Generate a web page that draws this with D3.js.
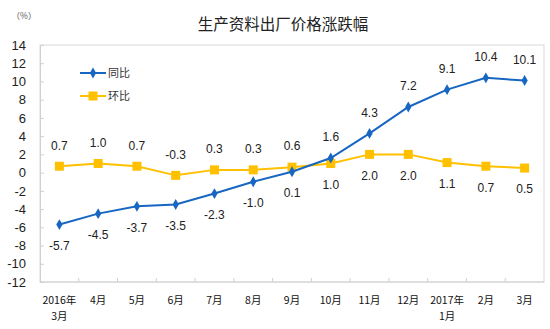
<!DOCTYPE html>
<html>
<head>
<meta charset="utf-8">
<script src="https://cdn.jsdelivr.net/npm/d3@7"></script>
<style>
  html, body { margin: 0; padding: 0; background: #fff; }
  svg { display: block; }
</style>
</head>
<body>
<svg id="chart" width="550" height="329"></svg>
<script>
// Months, first line is the label, second line (if any) goes underneath
const months = ["2016年\n3月", "4月", "5月", "6月", "7月", "8月", "9月", "10月", "11月", "12月", "2017年\n1月", "2月", "3月"];
// Year-on-year change (%)
const yoy = [-5.7, -4.5, -3.7, -3.5, -2.3, -1.0, 0.1, 1.6, 4.3, 7.2, 9.1, 10.4, 10.1];
// Month-on-month change (%)
const mom = [0.7, 1.0, 0.7, -0.3, 0.3, 0.3, 0.6, 1.0, 2.0, 2.0, 1.1, 0.7, 0.5];
// Value label placement: "a" above the point, "b" below
const yoyLabelSide = ["b", "b", "b", "b", "b", "b", "b", "a", "a", "a", "a", "a", "a"];
const momLabelSide = ["a", "a", "a", "a", "a", "a", "a", "b", "b", "b", "b", "b", "b"];
const yTicks = [14, 12, 10, 8, 6, 4, 2, 0, -2, -4, -6, -8, -10, -12];

const svg = d3.select("#chart");
const m = { left: 40, right: 6, top: 45, bottom: 47 };
const W = 550, H = 329;

const x = d3.scaleBand().domain(months).range([m.left, W - m.right]);
const y = d3.scaleLinear().domain([-12, 14]).range([H - m.bottom, m.top]);

const BLUE = "#1766c2", YELLOW = "#ffc000";
const latin = "'Liberation Sans', Arial, sans-serif";
const cjk = "'Noto Sans CJK SC', 'Liberation Sans', sans-serif";

// Plain hyphen for negatives
const hyphen = f => d => f(d).replace("\u2212", "-");
const fmtInt = hyphen(d3.format("d"));
const fmt1 = hyphen(d3.format(".1f"));

// Title and unit
svg.append("text").attr("x", 283).attr("y", 30).attr("text-anchor", "middle")
  .attr("font-family", cjk).attr("font-size", 15.5).attr("fill", "#222")
  .text("生产资料出厂价格涨跌幅");
svg.append("text").attr("x", 24).attr("y", 19).attr("text-anchor", "middle")
  .attr("font-family", cjk).attr("font-size", 8.5).attr("fill", "#555")
  .text("（%）");

// Plot frame
svg.append("rect").attr("x", m.left).attr("y", m.top)
  .attr("width", W - m.left - m.right).attr("height", H - m.top - m.bottom)
  .attr("fill", "none").attr("stroke", "#d9d9d9").attr("stroke-width", 1);

// Y axis
const yAxis = svg.append("g").attr("transform", `translate(${m.left},0)`)
  .call(d3.axisLeft(y).tickValues(yTicks).tickSize(-4).tickPadding(14).tickFormat(fmtInt));
yAxis.select(".domain").attr("stroke", "#d0d0d0");
yAxis.selectAll(".tick line").attr("stroke", "#d0d0d0");
yAxis.selectAll(".tick text").attr("font-family", latin).attr("font-size", 13).attr("fill", "#222");

// X axis with ticks at category boundaries
const xAxis = svg.append("g").attr("transform", `translate(0,${H - m.bottom})`);
xAxis.append("line").attr("x1", m.left).attr("x2", W - m.right).attr("y1", 0).attr("y2", 0)
  .attr("stroke", "#d0d0d0");
xAxis.selectAll("line.tk").data(months.slice(1)).join("line").attr("class", "tk")
  .attr("x1", d => x(d)).attr("x2", d => x(d)).attr("y1", 0).attr("y2", -4)
  .attr("stroke", "#d0d0d0");
const xl = xAxis.selectAll("text").data(months).join("text")
  .attr("text-anchor", "middle").attr("font-family", cjk).attr("font-size", 10.5).attr("fill", "#111");
xl.each(function (d) {
  const t = d3.select(this);
  d.split("\n").forEach((s, i) => {
    t.append("tspan").attr("x", x(d) + x.bandwidth() / 2).attr("y", 22 + i * 16).text(s);
  });
});

const cx = (d, i) => x(months[i]) + x.bandwidth() / 2;
const line = d3.line().x((d, i) => cx(d, i)).y(d => y(d));

// Month-on-month series
svg.append("path").datum(mom).attr("d", line).attr("fill", "none")
  .attr("stroke", YELLOW).attr("stroke-width", 2);
svg.selectAll("rect.mom").data(mom).join("rect").attr("class", "mom")
  .attr("x", (d, i) => cx(d, i) - 4.5).attr("y", d => y(d) - 4.5)
  .attr("width", 9).attr("height", 9).attr("fill", YELLOW);

// Year-on-year series
svg.append("path").datum(yoy).attr("d", line).attr("fill", "none")
  .attr("stroke", BLUE).attr("stroke-width", 2);
const diamond = d3.symbol().type(d3.symbolDiamond).size(34);
svg.selectAll("path.yoy").data(yoy).join("path").attr("class", "yoy")
  .attr("d", diamond).attr("transform", (d, i) => `translate(${cx(d, i)},${y(d)})`)
  .attr("fill", BLUE);

// Value labels
function labels(vals, sides, cls) {
  svg.selectAll("text." + cls).data(vals).join("text").attr("class", cls)
    .attr("x", (d, i) => cx(d, i))
    .attr("y", (d, i) => y(d) + (sides[i] === "a" ? -21 : 21))
    .attr("dy", "0.36em").attr("text-anchor", "middle")
    .attr("font-family", latin).attr("font-size", 12).attr("fill", "#222")
    .text(fmt1);
}
labels(mom, momLabelSide, "lm");
labels(yoy, yoyLabelSide, "ly");

// Legend
const legend = [
  { name: "同比", color: BLUE, sym: "d", y: 73 },
  { name: "环比", color: YELLOW, sym: "s", y: 96 }
];
const lg = svg.selectAll("g.lg").data(legend).join("g").attr("class", "lg");
lg.append("line").attr("x1", 80).attr("x2", 106).attr("y1", d => d.y).attr("y2", d => d.y)
  .attr("stroke", d => d.color).attr("stroke-width", 2);
lg.each(function (d) {
  const g = d3.select(this);
  if (d.sym === "d") {
    g.append("path").attr("d", diamond).attr("transform", `translate(93,${d.y})`).attr("fill", d.color);
  } else {
    g.append("rect").attr("x", 88.5).attr("y", d.y - 4.5).attr("width", 9).attr("height", 9).attr("fill", d.color);
  }
});
lg.append("text").attr("x", 108).attr("y", d => d.y).attr("dy", "0.36em")
  .attr("font-family", cjk).attr("font-size", 11).attr("fill", "#333").text(d => d.name);
</script>
</body>
</html>
